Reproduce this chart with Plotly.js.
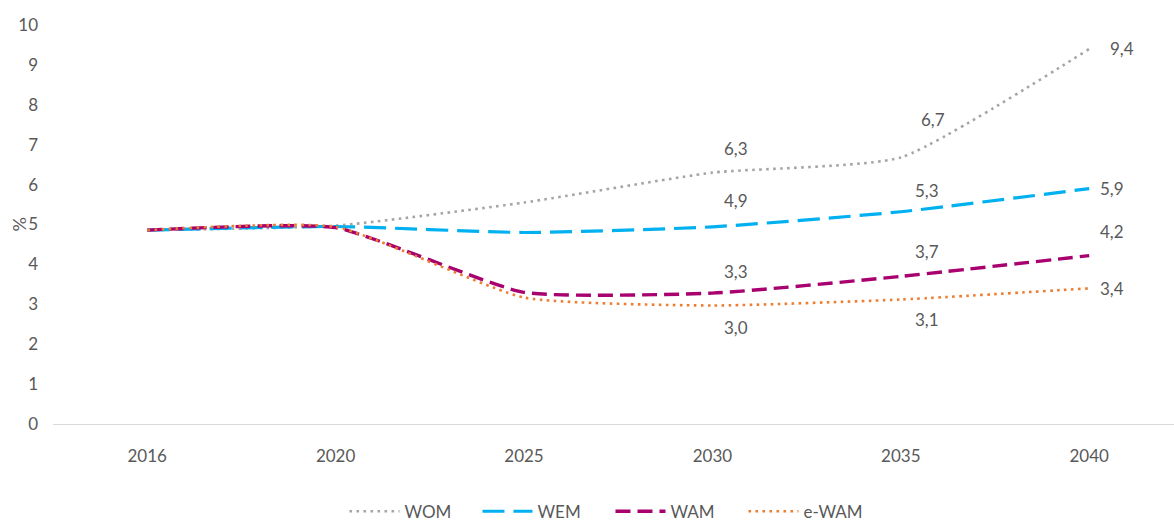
<!DOCTYPE html>
<html>
<head>
<meta charset="utf-8">
<script src="https://cdn.plot.ly/plotly-3.0.1.min.js"></script>
<style>html,body{margin:0;padding:0;background:#fff;}#chart{width:1174px;height:520px;}</style>
</head>
<body>
<div id="chart"></div>
<script>
// ---- data ----
const years = ['2016', '2020', '2025', '2030', '2035', '2040'];
const seriesNames = ['WOM', 'WEM', 'WAM', 'e-WAM'];
const wom  = [4.86, 4.97, 5.55, 6.30, 6.68, 9.40];
const wem  = [4.86, 4.95, 4.80, 4.94, 5.32, 5.90];
const wam  = [4.86, 4.92, 3.30, 3.28, 3.70, 4.22];
const ewam = [4.86, 4.94, 3.17, 2.97, 3.12, 3.40];
const yTicks = [0, 1, 2, 3, 4, 5, 6, 7, 8, 9, 10];
const yTitle = '%';

// ---- styles ----
const values = [wom, wem, wam, ewam];
const styles = [
  {color: '#A5A5A5', width: 2.6, dash: '2.6px,4.4px'},
  {color: '#00B0F0', width: 3.2, dash: '22px,9px'},
  {color: '#A8006E', width: 3.4, dash: '15px,7px'},
  {color: '#ED7D31', width: 2.6, dash: '2.6px,4.4px'}
];
// label offsets [xshift, yshift, xanchor] for the labelled points (indices 3,4,5)
const labelIdx = [3, 4, 5];
const labelOffsets = [
  [[24, 24, 'center'], [32, 38, 'center'], [19, 0, 'left']],
  [[24, 26, 'center'], [26, 21, 'center'], [9, 0, 'left']],
  [[24, 22, 'center'], [26, 25, 'center'], [9, 24, 'left']],
  [[24, -22, 'center'], [26, -20, 'center'], [9, 0, 'left']]
];

const fontFamily = 'Lato, "Open Sans", sans-serif';
const textColor = '#595959';

function fmt(v) { return (Math.round(v * 10) / 10).toFixed(1).replace('.', ','); }

const traces = values.map((vals, i) => ({
  type: 'scatter',
  mode: 'lines',
  name: seriesNames[i],
  x: years,
  y: vals,
  line: {color: styles[i].color, width: styles[i].width, dash: styles[i].dash, shape: 'spline', smoothing: 0.5},
  hoverinfo: 'skip'
}));

const annotations = [];
values.forEach((vals, i) => {
  labelIdx.forEach((idx, k) => {
    const o = labelOffsets[i][k];
    annotations.push({
      x: idx, y: vals[idx], xref: 'x', yref: 'y',
      text: fmt(vals[idx]), showarrow: false,
      xshift: o[0], yshift: o[1], xanchor: o[2], yanchor: 'middle',
      font: {family: fontFamily, size: 17, color: textColor}
    });
  });
});
annotations.push({
  x: 0, y: 0.5, xref: 'paper', yref: 'paper', xshift: -35,
  text: yTitle, textangle: -90, showarrow: false,
  xanchor: 'center', yanchor: 'middle',
  font: {family: fontFamily, size: 18, color: textColor}
});

const layout = {
  width: 1174, height: 520,
  margin: {l: 53, r: 0, t: 25, b: 96},
  paper_bgcolor: '#ffffff', plot_bgcolor: '#ffffff',
  font: {family: fontFamily, size: 17, color: textColor},
  showlegend: true,
  legend: {
    orientation: 'h', xref: 'container', yref: 'container',
    x: 0.52, xanchor: 'center', y: 0.016, yanchor: 'middle',
    font: {family: fontFamily, size: 17, color: textColor},
    itemwidth: 50, entrywidth: 68, tracegroupgap: 0
  },
  xaxis: {
    type: 'category', range: [-0.5, 5.45],
    showgrid: false, zeroline: false,
    showline: true, linecolor: '#D9D9D9', linewidth: 1.3,
    ticks: '', ticklabelstandoff: 16,
    tickfont: {family: fontFamily, size: 17, color: textColor},
    fixedrange: true
  },
  yaxis: {
    range: [0, 10], tickvals: yTicks, ticktext: yTicks.map(String),
    showgrid: false, zeroline: false, showline: false,
    ticks: '', ticklabelstandoff: 14,
    tickfont: {family: fontFamily, size: 17, color: textColor},
    fixedrange: true
  },
  annotations: annotations
};

Plotly.newPlot('chart', traces, layout, {displayModeBar: false, staticPlot: true});
</script>
</body>
</html>
